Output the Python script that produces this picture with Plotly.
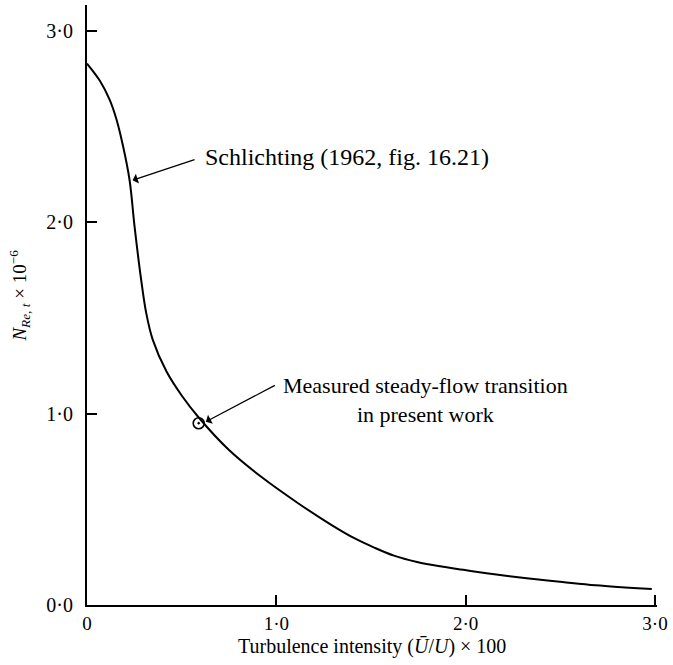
import plotly.graph_objects as go

# Curve (Schlichting 1962, fig. 16.21)
turb_intensity = [0.0, 0.068, 0.12, 0.155, 0.19, 0.225, 0.251, 0.286, 0.312, 0.347, 0.42,
                  0.50, 0.59, 0.75, 0.92, 1.115, 1.29, 1.412, 1.517, 1.621, 1.743, 1.866,
                  1.988, 2.11, 2.232, 2.372, 2.511, 2.686, 2.983]
reynolds_t = [2.83, 2.74, 2.64, 2.54, 2.40, 2.22, 1.98, 1.70, 1.53, 1.387, 1.22,
              1.095, 0.98, 0.81, 0.67, 0.532, 0.419, 0.349, 0.300, 0.258, 0.225, 0.202,
              0.184, 0.166, 0.150, 0.134, 0.120, 0.103, 0.083]

# Measured point
measured_x = [0.59]
measured_y = [0.95]

x_tickvals = [0, 1, 2, 3]
x_ticktext = ["0", "1·0", "2·0", "3·0"]
y_tickvals = [0, 1, 2, 3]
y_ticktext = ["0·0", "1·0", "2·0", "3·0"]

FONT = "Liberation Serif"

fig = go.Figure()
fig.add_trace(go.Scatter(x=turb_intensity, y=reynolds_t, mode="lines",
                         line=dict(color="black", width=2, shape="spline", smoothing=1.0),
                         showlegend=False, hoverinfo="skip"))
fig.add_trace(go.Scatter(x=measured_x, y=measured_y, mode="markers",
                         marker=dict(symbol="circle-open-dot", size=11, color="black",
                                     line=dict(width=1.6, color="black")),
                         showlegend=False))

# Arrows
fig.add_annotation(x=0.241, y=2.22, ax=0.576, ay=2.33, xref="x", yref="y",
                   axref="x", ayref="y", text="", showarrow=True,
                   arrowhead=1, arrowsize=1.3, arrowwidth=1.3, arrowcolor="black")
fig.add_annotation(x=0.628, y=0.958, ax=1.0, ay=1.152, xref="x", yref="y",
                   axref="x", ayref="y", text="", showarrow=True,
                   arrowhead=1, arrowsize=1.3, arrowwidth=1.3, arrowcolor="black")

# Labels
fig.add_annotation(x=0.612, y=2.34, xref="x", yref="y", xanchor="left", yanchor="middle",
                   text="Schlichting (1962, fig. 16.21)", showarrow=False,
                   font=dict(family=FONT, size=24, color="black"))
fig.add_annotation(x=1.79, y=1.07, xref="x", yref="y", xanchor="center", yanchor="middle",
                   text="Measured steady-flow transition<br>in present work", showarrow=False,
                   align="center", font=dict(family=FONT, size=22, color="black"))

# Y-axis title as rotated text
fig.add_annotation(x=-0.12, y=0.515, xref="paper", yref="paper", xanchor="center",
                   yanchor="middle", textangle=-90, showarrow=False,
                   text="<i>N</i><sub><i>Re, t</i></sub> × 10<sup>−6</sup>",
                   font=dict(family=FONT, size=19, color="black"))

# X-axis title
fig.add_annotation(x=0.5, y=-0.069, xref="paper", yref="paper", xanchor="center",
                   yanchor="middle", showarrow=False,
                   text="Turbulence intensity (<i>Ū</i>/<i>U</i>) × 100",
                   font=dict(family=FONT, size=20, color="black"))

fig.update_layout(
    width=673, height=665,
    margin=dict(l=87, r=11, t=5, b=60),
    paper_bgcolor="white", plot_bgcolor="white",
    font=dict(family=FONT, size=19, color="black"),
    xaxis=dict(range=[0, 3.0105], tickvals=x_tickvals, ticktext=x_ticktext,
               ticks="inside", ticklen=10, tickwidth=1.5, tickcolor="black",
               showline=True, linecolor="black", linewidth=2, showgrid=False,
               zeroline=False, ticklabelstandoff=0, tickfont=dict(family=FONT, size=19)),
    yaxis=dict(range=[0, 3.136], tickvals=y_tickvals, ticktext=y_ticktext,
               ticks="inside", ticklen=10, tickwidth=1.5, tickcolor="black",
               showline=True, linecolor="black", linewidth=2, showgrid=False,
               zeroline=False, ticklabelstandoff=8, tickfont=dict(family=FONT, size=20)),
)

fig.write_html("out.html")
